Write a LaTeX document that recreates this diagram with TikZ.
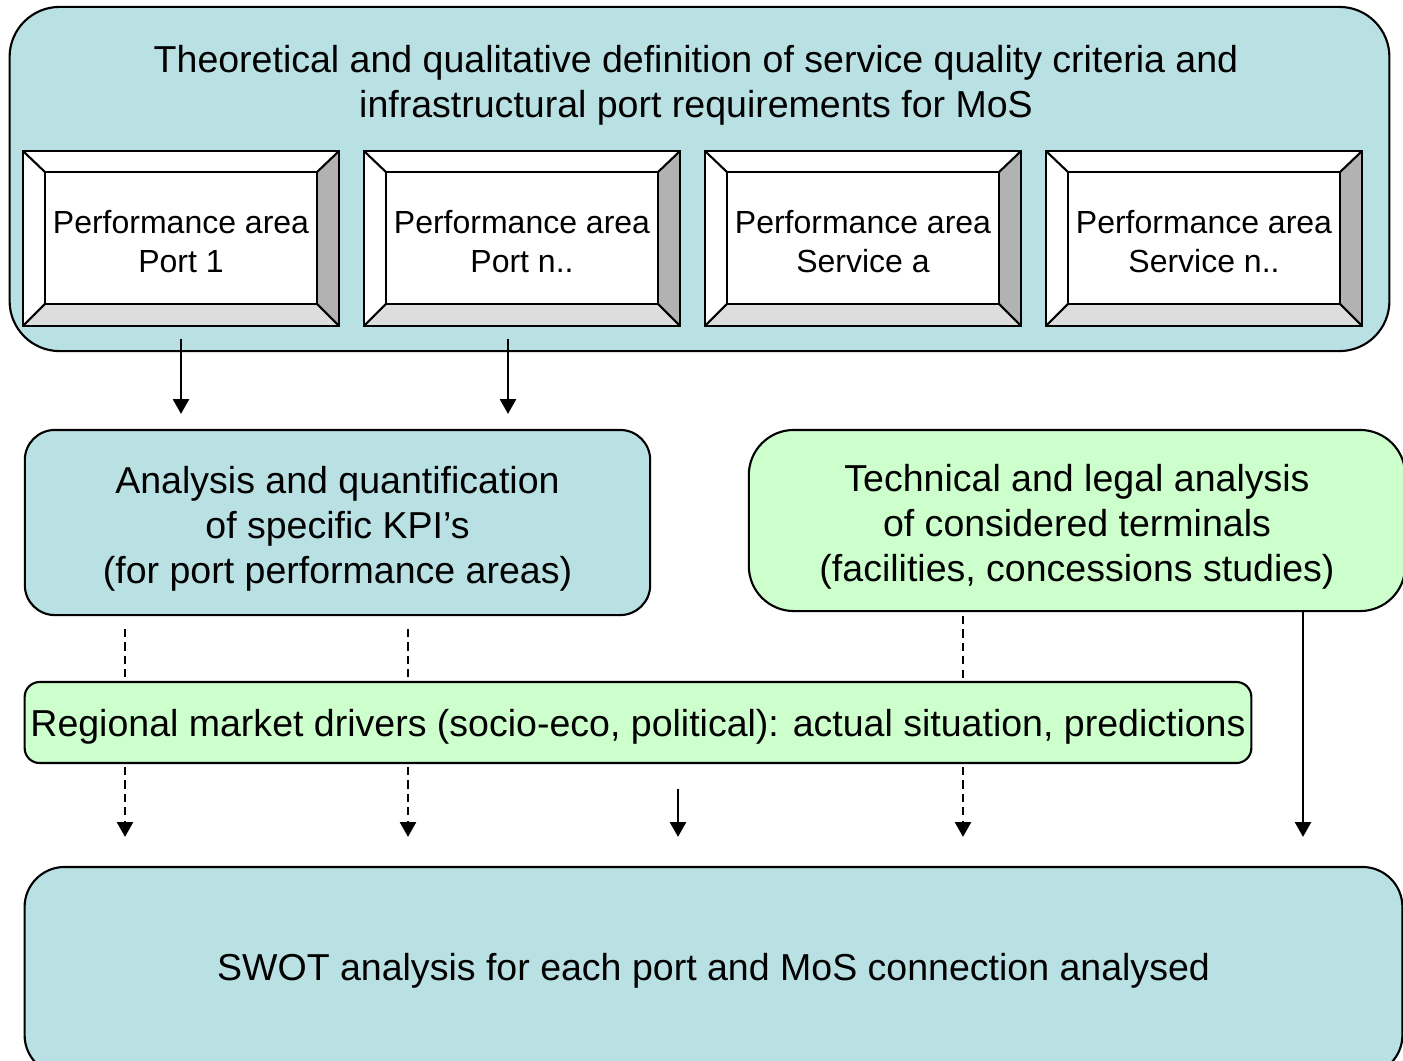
\documentclass[tikz,border=0pt]{standalone}
\usepackage{fontspec}
\setmainfont{Liberation Sans}
\usepackage{xcolor}
\usepackage{tikz}
\usetikzlibrary{arrows.meta}
\usetikzlibrary{calc}
\usetikzlibrary{positioning}

\definecolor{boxblue}{RGB}{185,224,227}
\definecolor{boxgreen}{RGB}{204,255,204}
\definecolor{faceright}{RGB}{178,178,178}
\definecolor{facebottom}{RGB}{221,221,221}

\begin{document}
\begin{tikzpicture}[x=0.01cm,y=-0.01cm]
        \tikzstyle{every node}=[font=\fontsize{10.67}{12.8}\selectfont]
        \tikzstyle{bluebox}=[draw,line width=0.6pt,fill=boxblue,align=center,rounded corners=0.3cm]
        \tikzstyle{greenbox}=[draw,line width=0.6pt,fill=boxgreen,align=center,rounded corners=0.3cm]
        \tikzstyle{perfbox}=[fill=white,minimum width=3.14cm,minimum height=1.73cm,align=center,font=\fontsize{9.1}{11.1}\selectfont]
        \tikzstyle{boxtext}=[align=center,yshift=-0.06cm]
        \tikzstyle{edge}=[line width=0.6pt]
        \tikzstyle{flow}=[line width=0.5pt,-{Triangle[width=4.6pt,length=4.2pt]}]
        \tikzstyle{dashline}=[line width=0.5pt,dash pattern=on 2.3pt off 1.5pt]
        \useasboundingbox (0,0) rectangle (1403,1060);
        \clip (0,0) rectangle (1403,1060);
        % top block
        \node[bluebox,rounded corners=0.5cm,minimum width=13.79cm,minimum height=3.44cm] (crit) at (699.5,179) {};
        \node[align=center] (title) at (696,85) {Theoretical and qualitative definition of service quality criteria and\\infrastructural port requirements for MoS};
        \foreach \x/\name/\txt in {181/pa1/Port 1, 522/pa2/Port n.., 863/pa3/Service a, 1204/pa4/Service n..} {
          \node[perfbox] (\name) at (\x,238.5) {\rule{0pt}{0.295cm}Performance area\\\txt};
          \fill[white] (\name.north west) -- (\name.north east) -- ($(\name.north east)+(-22,21)$) -- ($(\name.north west)+(22,21)$) -- cycle;
          \fill[white] (\name.north west) -- (\name.south west) -- ($(\name.south west)+(22,-22)$) -- ($(\name.north west)+(22,21)$) -- cycle;
          \fill[faceright] (\name.north east) -- (\name.south east) -- ($(\name.south east)+(-22,-22)$) -- ($(\name.north east)+(-22,21)$) -- cycle;
          \fill[facebottom] (\name.south west) -- (\name.south east) -- ($(\name.south east)+(-22,-22)$) -- ($(\name.south west)+(22,-22)$) -- cycle;
          \draw[edge] (\name.north west) rectangle (\name.south east);
          \draw[edge] ($(\name.north west)+(22,21)$) rectangle ($(\name.south east)+(-22,-22)$);
          \draw[edge] (\name.north west) -- ++(22,21);
          \draw[edge] (\name.north east) -- ++(-22,21);
          \draw[edge] (\name.south west) -- ++(22,-22);
          \draw[edge] (\name.south east) -- ++(-22,-22);
        }
        % middle blocks
        \node[bluebox,minimum width=6.25cm,minimum height=1.85cm,
          label={[boxtext]center:Analysis and quantification\\of specific KPI’s\\(for port performance areas)}] (kpi) at (337.5,522.5) {};
        \node[greenbox,rounded corners=0.45cm,minimum width=6.56cm,minimum height=1.81cm,
          label={[boxtext]center:Technical and legal analysis\\of considered terminals\\(facilities, concessions studies)}] (tech) at (1077,520.5) {};
        \node[greenbox,rounded corners=0.15cm,minimum width=12.26cm,minimum height=0.81cm,
          label={[boxtext,yshift=0.02cm]center:Regional market drivers (socio-eco, political): actual situation, predictions}] (drivers) at (638,722.5) {};
        \node[bluebox,rounded corners=0.4cm,minimum width=13.77cm,minimum height=2.08cm] (swot) at (713.5,971) {SWOT analysis for each port and MoS connection analysed};
        % connectors
        \coordinate (p1) at (181,0);
        \coordinate (p2) at (508,0);
        \coordinate (k1) at (125,0);
        \coordinate (k2) at (408,0);
        \coordinate (r1) at (678,0);
        \coordinate (t1) at (963,0);
        \coordinate (t2) at (1303,0);
        \draw[flow,shorten <=0.13cm,shorten >=0.15cm] (pa1.south -| p1) -- (kpi.north -| p1);
        \draw[flow,shorten <=0.13cm,shorten >=0.15cm] (pa2.south -| p2) -- (kpi.north -| p2);
        \draw[dashline,shorten <=0.13cm] (kpi.south -| k1) -- (drivers.north -| k1);
        \draw[dashline,shorten <=0.13cm] (kpi.south -| k2) -- (drivers.north -| k2);
        \draw[dashline,shorten <=0.04cm] (tech.south -| t1) -- (drivers.north -| t1);
        \draw[flow,dashline,shorten <=0.03cm,shorten >=0.29cm] (drivers.south -| k1) -- (swot.north -| k1);
        \draw[flow,dashline,shorten <=0.03cm,shorten >=0.29cm] (drivers.south -| k2) -- (swot.north -| k2);
        \draw[flow,dashline,shorten <=0.03cm,shorten >=0.29cm] (drivers.south -| t1) -- (swot.north -| t1);
        \draw[flow,shorten <=0.25cm,shorten >=0.29cm] (drivers.south -| r1) -- (swot.north -| r1);
        \draw[flow,shorten >=0.29cm] (tech.south -| t2) -- (swot.north -| t2);
\end{tikzpicture}
\end{document}
